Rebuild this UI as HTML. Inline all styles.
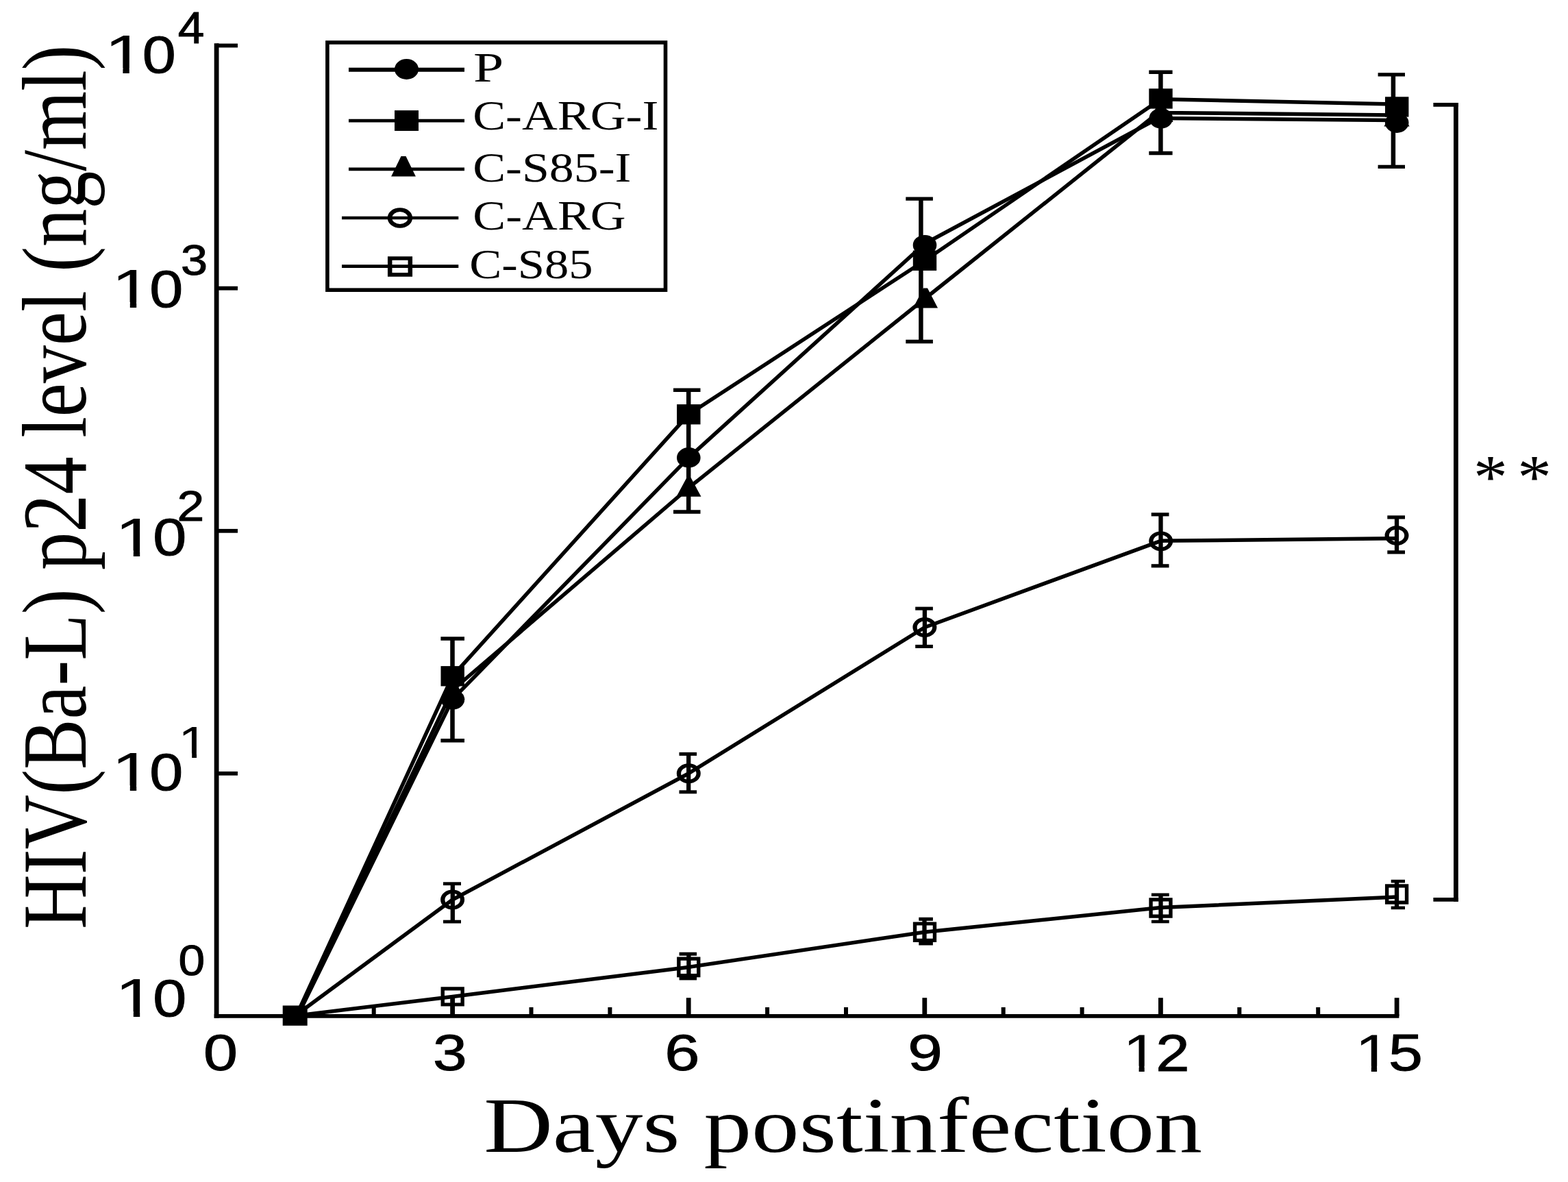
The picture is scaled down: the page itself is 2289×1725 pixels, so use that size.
<!DOCTYPE html>
<html lang="en"><head><meta charset="utf-8"><title>HIV(Ba-L) p24 level vs days postinfection</title>
<style>html,body{margin:0;padding:0;background:#fff}body{width:2289px;height:1725px;overflow:hidden}svg{display:block}text{fill:#000}</style>
</head><body>
<svg width="2289" height="1725" viewBox="0 0 2289 1725">
<rect x="0" y="0" width="2289" height="1725" fill="#fff"/>
<g fill="none" stroke="#000" stroke-width="5.5" stroke-linejoin="round" stroke-linecap="butt">
<polyline points="434.5,1482.5 660.6,1020.5 1005.3,667.9 1350.0,355.5 1694.6,170.5 1694.6,172.6 2039.0,175.5"/>
<polyline points="432.5,1482.5 660.6,986.7 1005.3,604.8 1350.0,380.2 1694.6,144.8 2039.0,152.0"/>
<polyline points="433.5,1482.5 660.6,1007.0 1005.3,712.0 1350.0,436.0 1694.6,161.5 1694.6,164.4 2039.0,168.0"/>
<polyline points="430.7,1482.5 660.6,1313.0 1005.3,1128.7 1350.0,915.5 1694.6,789.3 2039.0,785.8"/>
<polyline points="430.7,1482.5 660.6,1454.4 1005.3,1411.4 1350.0,1360.2 1694.6,1324.5 2039.0,1309.0"/>
</g>
<g stroke="#000" fill="none">
<line x1="316.1" y1="63.3" x2="316.1" y2="1485.7" stroke-width="6.8" stroke-linecap="butt"/>
<line x1="312.7" y1="1482.9" x2="2042.4" y2="1482.9" stroke-width="5.6" stroke-linecap="butt"/>
<line x1="316.1" y1="66.5" x2="347.0" y2="66.5" stroke-width="5.8" stroke-linecap="butt"/>
<line x1="316.1" y1="420.7" x2="347.0" y2="420.7" stroke-width="5.8" stroke-linecap="butt"/>
<line x1="316.1" y1="774.8" x2="347.0" y2="774.8" stroke-width="5.8" stroke-linecap="butt"/>
<line x1="316.1" y1="1128.8" x2="347.0" y2="1128.8" stroke-width="5.8" stroke-linecap="butt"/>
<line x1="430.9" y1="1470.0" x2="430.9" y2="1482.9" stroke-width="6.0" stroke-linecap="butt"/>
<line x1="545.7" y1="1470.0" x2="545.7" y2="1482.9" stroke-width="6.0" stroke-linecap="butt"/>
<line x1="660.6" y1="1456.2" x2="660.6" y2="1482.9" stroke-width="6.8" stroke-linecap="butt"/>
<line x1="775.5" y1="1470.0" x2="775.5" y2="1482.9" stroke-width="6.0" stroke-linecap="butt"/>
<line x1="890.4" y1="1470.0" x2="890.4" y2="1482.9" stroke-width="6.0" stroke-linecap="butt"/>
<line x1="1005.2" y1="1456.2" x2="1005.2" y2="1482.9" stroke-width="6.8" stroke-linecap="butt"/>
<line x1="1120.1" y1="1470.0" x2="1120.1" y2="1482.9" stroke-width="6.0" stroke-linecap="butt"/>
<line x1="1235.0" y1="1470.0" x2="1235.0" y2="1482.9" stroke-width="6.0" stroke-linecap="butt"/>
<line x1="1349.8" y1="1456.2" x2="1349.8" y2="1482.9" stroke-width="6.8" stroke-linecap="butt"/>
<line x1="1464.7" y1="1470.0" x2="1464.7" y2="1482.9" stroke-width="6.0" stroke-linecap="butt"/>
<line x1="1579.6" y1="1470.0" x2="1579.6" y2="1482.9" stroke-width="6.0" stroke-linecap="butt"/>
<line x1="1694.4" y1="1456.2" x2="1694.4" y2="1482.9" stroke-width="6.8" stroke-linecap="butt"/>
<line x1="1809.3" y1="1470.0" x2="1809.3" y2="1482.9" stroke-width="6.0" stroke-linecap="butt"/>
<line x1="1924.2" y1="1470.0" x2="1924.2" y2="1482.9" stroke-width="6.0" stroke-linecap="butt"/>
<line x1="2039.1" y1="1456.2" x2="2039.1" y2="1482.9" stroke-width="6.8" stroke-linecap="butt"/>
</g>
<g stroke="#000" fill="none">
<line x1="660.5" y1="932.0" x2="660.5" y2="1080.7" stroke-width="6.5" stroke-linecap="butt"/>
<line x1="643.4" y1="932.0" x2="678.0" y2="932.0" stroke-width="5.4" stroke-linecap="butt"/>
<line x1="643.4" y1="1080.7" x2="678.0" y2="1080.7" stroke-width="5.4" stroke-linecap="butt"/>
<line x1="1005.2" y1="569.2" x2="1005.2" y2="747.0" stroke-width="6.5" stroke-linecap="butt"/>
<line x1="983.0" y1="569.2" x2="1022.5" y2="569.2" stroke-width="5.4" stroke-linecap="butt"/>
<line x1="983.0" y1="747.0" x2="1022.5" y2="747.0" stroke-width="5.4" stroke-linecap="butt"/>
<line x1="1344.4" y1="290.1" x2="1344.4" y2="498.5" stroke-width="6.5" stroke-linecap="butt"/>
<line x1="1322.3" y1="290.1" x2="1361.9" y2="290.1" stroke-width="5.4" stroke-linecap="butt"/>
<line x1="1322.3" y1="498.5" x2="1361.9" y2="498.5" stroke-width="5.4" stroke-linecap="butt"/>
<line x1="1694.4" y1="105.3" x2="1694.4" y2="223.5" stroke-width="6.5" stroke-linecap="butt"/>
<line x1="1677.3" y1="105.3" x2="1711.6" y2="105.3" stroke-width="5.4" stroke-linecap="butt"/>
<line x1="1677.3" y1="223.5" x2="1711.6" y2="223.5" stroke-width="5.4" stroke-linecap="butt"/>
<line x1="2033.9" y1="108.9" x2="2033.9" y2="243.4" stroke-width="6.5" stroke-linecap="butt"/>
<line x1="2011.6" y1="108.9" x2="2051.0" y2="108.9" stroke-width="5.4" stroke-linecap="butt"/>
<line x1="2011.6" y1="243.4" x2="2051.0" y2="243.4" stroke-width="5.4" stroke-linecap="butt"/>
<line x1="660.8" y1="1289.7" x2="660.8" y2="1345.1" stroke-width="6.3" stroke-linecap="butt"/>
<line x1="647.0" y1="1289.7" x2="673.0" y2="1289.7" stroke-width="4.8" stroke-linecap="butt"/>
<line x1="647.0" y1="1345.1" x2="673.0" y2="1345.1" stroke-width="4.8" stroke-linecap="butt"/>
<line x1="1005.2" y1="1100.4" x2="1005.2" y2="1155.8" stroke-width="6.3" stroke-linecap="butt"/>
<line x1="991.5" y1="1100.4" x2="1017.1" y2="1100.4" stroke-width="5.0" stroke-linecap="butt"/>
<line x1="991.5" y1="1155.8" x2="1017.1" y2="1155.8" stroke-width="5.0" stroke-linecap="butt"/>
<line x1="1349.9" y1="888.1" x2="1349.9" y2="943.4" stroke-width="6.3" stroke-linecap="butt"/>
<line x1="1336.2" y1="888.1" x2="1361.9" y2="888.1" stroke-width="5.0" stroke-linecap="butt"/>
<line x1="1336.2" y1="943.4" x2="1361.9" y2="943.4" stroke-width="5.0" stroke-linecap="butt"/>
<line x1="1694.5" y1="750.8" x2="1694.5" y2="825.8" stroke-width="6.3" stroke-linecap="butt"/>
<line x1="1680.7" y1="750.8" x2="1706.5" y2="750.8" stroke-width="5.2" stroke-linecap="butt"/>
<line x1="1680.7" y1="825.8" x2="1706.5" y2="825.8" stroke-width="5.2" stroke-linecap="butt"/>
<line x1="2039.0" y1="754.9" x2="2039.0" y2="805.9" stroke-width="6.3" stroke-linecap="butt"/>
<line x1="2025.3" y1="754.9" x2="2051.0" y2="754.9" stroke-width="5.2" stroke-linecap="butt"/>
<line x1="2025.3" y1="805.9" x2="2051.0" y2="805.9" stroke-width="5.2" stroke-linecap="butt"/>
<line x1="1005.4" y1="1392.2" x2="1005.4" y2="1427.9" stroke-width="6.3" stroke-linecap="butt"/>
<line x1="991.6" y1="1392.2" x2="1017.1" y2="1392.2" stroke-width="5.0" stroke-linecap="butt"/>
<line x1="991.6" y1="1427.9" x2="1017.1" y2="1427.9" stroke-width="5.0" stroke-linecap="butt"/>
<line x1="1349.5" y1="1341.3" x2="1349.5" y2="1377.0" stroke-width="6.3" stroke-linecap="butt"/>
<line x1="1341.3" y1="1341.3" x2="1361.9" y2="1341.3" stroke-width="5.0" stroke-linecap="butt"/>
<line x1="1341.3" y1="1377.0" x2="1361.9" y2="1377.0" stroke-width="5.0" stroke-linecap="butt"/>
<line x1="1694.5" y1="1305.8" x2="1694.5" y2="1345.0" stroke-width="6.3" stroke-linecap="butt"/>
<line x1="1680.9" y1="1305.8" x2="1706.7" y2="1305.8" stroke-width="4.6" stroke-linecap="butt"/>
<line x1="1680.9" y1="1345.0" x2="1706.7" y2="1345.0" stroke-width="4.6" stroke-linecap="butt"/>
<line x1="2039.0" y1="1286.1" x2="2039.0" y2="1324.9" stroke-width="6.3" stroke-linecap="butt"/>
<line x1="2030.7" y1="1286.1" x2="2051.0" y2="1286.1" stroke-width="4.6" stroke-linecap="butt"/>
<line x1="2030.7" y1="1324.9" x2="2051.0" y2="1324.9" stroke-width="4.6" stroke-linecap="butt"/>
</g>
<g>
<path d="M643.55,1440.20 H677.85 V1468.60 H643.55 Z M648.95,1445.40 H672.45 V1463.40 H648.95 Z" fill="#000" fill-rule="evenodd"/>
<path d="M988.15,1396.60 H1022.45 V1426.20 H988.15 Z M993.55,1401.80 H1017.05 V1421.00 H993.55 Z" fill="#000" fill-rule="evenodd"/>
<path d="M1332.85,1345.40 H1367.15 V1375.00 H1332.85 Z M1338.25,1350.60 H1361.75 V1369.80 H1338.25 Z" fill="#000" fill-rule="evenodd"/>
<path d="M1677.35,1310.20 H1711.65 V1339.80 H1677.35 Z M1682.75,1315.40 H1706.25 V1334.60 H1682.75 Z" fill="#000" fill-rule="evenodd"/>
<path d="M2021.95,1290.20 H2056.25 V1319.80 H2021.95 Z M2027.35,1295.40 H2050.85 V1314.60 H2027.35 Z" fill="#000" fill-rule="evenodd"/>
<path d="M643.10,1313.00 a17.50,14.40 0 1,0 35.00,0 a17.50,14.40 0 1,0 -35.00,0 Z M649.40,1313.00 a11.20,9.20 0 1,0 22.40,0 a11.20,9.20 0 1,0 -22.40,0 Z" fill="#000" fill-rule="evenodd"/>
<path d="M987.80,1128.70 a17.50,14.40 0 1,0 35.00,0 a17.50,14.40 0 1,0 -35.00,0 Z M994.10,1128.70 a11.20,9.20 0 1,0 22.40,0 a11.20,9.20 0 1,0 -22.40,0 Z" fill="#000" fill-rule="evenodd"/>
<path d="M1332.40,915.50 a17.50,14.40 0 1,0 35.00,0 a17.50,14.40 0 1,0 -35.00,0 Z M1338.70,915.50 a11.20,9.20 0 1,0 22.40,0 a11.20,9.20 0 1,0 -22.40,0 Z" fill="#000" fill-rule="evenodd"/>
<path d="M1677.20,789.80 a17.50,14.40 0 1,0 35.00,0 a17.50,14.40 0 1,0 -35.00,0 Z M1683.50,789.80 a11.20,9.20 0 1,0 22.40,0 a11.20,9.20 0 1,0 -22.40,0 Z" fill="#000" fill-rule="evenodd"/>
<path d="M2021.50,781.60 a17.50,14.40 0 1,0 35.00,0 a17.50,14.40 0 1,0 -35.00,0 Z M2027.80,781.60 a11.20,9.20 0 1,0 22.40,0 a11.20,9.20 0 1,0 -22.40,0 Z" fill="#000" fill-rule="evenodd"/>
<polygon points="657.6,992.0 663.6,992.0 678.6,1020.5 642.6,1020.5" fill="#000"/>
<polygon points="1002.5,697.0 1008.5,697.0 1023.5,724.8 987.5,724.8" fill="#000"/>
<polygon points="1348.0,420.5 1354.0,420.5 1369.0,449.4 1333.0,449.4" fill="#000"/>
<polygon points="1691.6,149.5 1697.6,149.5 1712.6,178.0 1676.6,178.0" fill="#000"/>
<polygon points="2036.0,156.0 2042.0,156.0 2057.6,184.6 2020.4,184.6" fill="#000"/>
<ellipse cx="660.9" cy="1020.8" rx="17.3" ry="14.8" fill="#000"/>
<ellipse cx="1005.3" cy="667.9" rx="17.3" ry="14.8" fill="#000"/>
<ellipse cx="1350.0" cy="357.7" rx="17.3" ry="14.8" fill="#000"/>
<ellipse cx="1694.8" cy="172.7" rx="17.3" ry="14.8" fill="#000"/>
<ellipse cx="2039.2" cy="179.1" rx="17.3" ry="14.8" fill="#000"/>
<rect x="643.5" y="972.1" width="34.4" height="29.3" fill="#000" stroke="none"/>
<rect x="988.1" y="590.1" width="34.4" height="29.3" fill="#000" stroke="none"/>
<rect x="1332.8" y="365.6" width="34.4" height="29.3" fill="#000" stroke="none"/>
<rect x="1677.3" y="129.3" width="34.4" height="29.3" fill="#000" stroke="none"/>
<rect x="2022.0" y="141.3" width="34.4" height="29.3" fill="#000" stroke="none"/>
<rect x="412.7" y="1467.5" width="36.0" height="29.3" fill="#000" stroke="none"/>
</g>
<g stroke="#000" fill="none">
<line x1="2125.4" y1="150.0" x2="2125.4" y2="1315.8" stroke-width="6.8" stroke-linecap="butt"/>
<line x1="2092.4" y1="152.9" x2="2128.8" y2="152.9" stroke-width="5.8" stroke-linecap="butt"/>
<line x1="2092.4" y1="1312.9" x2="2128.8" y2="1312.9" stroke-width="5.8" stroke-linecap="butt"/>
</g>
<g>
<rect x="477.9" y="62.0" width="493.6" height="361.2" fill="none" stroke="#000" stroke-width="5.6"/>
<g stroke="#000" fill="none">
<line x1="509.0" y1="101.8" x2="678.0" y2="101.8" stroke-width="5.9" stroke-linecap="butt"/>
<line x1="509.0" y1="176.1" x2="678.0" y2="176.1" stroke-width="4.6" stroke-linecap="butt"/>
<line x1="509.0" y1="246.9" x2="678.0" y2="246.9" stroke-width="4.6" stroke-linecap="butt"/>
<line x1="499.0" y1="318.0" x2="669.3" y2="318.0" stroke-width="4.6" stroke-linecap="butt"/>
<line x1="499.0" y1="388.6" x2="669.3" y2="388.6" stroke-width="4.6" stroke-linecap="butt"/>
</g>
<ellipse cx="593.5" cy="101.0" rx="17.5" ry="14.9" fill="#000"/>
<rect x="576.0" y="161.1" width="35.0" height="29.9" fill="#000" stroke="none"/>
<polygon points="585.5,227.9 592.5,227.9 606.9,257.5 571.1,257.5" fill="#000"/>
<path d="M565.70,318.00 a18.20,14.85 0 1,0 36.40,0 a18.20,14.85 0 1,0 -36.40,0 Z M572.20,318.00 a11.70,8.95 0 1,0 23.40,0 a11.70,8.95 0 1,0 -23.40,0 Z" fill="#000" fill-rule="evenodd"/>
<path d="M565.95,374.15 H602.05 V403.65 H565.95 Z M572.45,379.75 H595.55 V398.05 H572.45 Z" fill="#000" fill-rule="evenodd"/>
</g>
<g fill="#000">
<text transform="translate(690.92 119.00) scale(1.3013 1)" font-family='"Liberation Serif", serif' font-size="61.00">P</text>
<text transform="translate(690.13 189.30) scale(1.1773 1)" font-family='"Liberation Serif", serif' font-size="61.00">C-ARG-I</text>
<text transform="translate(690.13 264.80) scale(1.1771 1)" font-family='"Liberation Serif", serif' font-size="61.00">C-S85-I</text>
<text transform="translate(690.33 335.20) scale(1.1767 1)" font-family='"Liberation Serif", serif' font-size="61.00">C-ARG</text>
<text transform="translate(685.17 405.80) scale(1.1578 1)" font-family='"Liberation Serif", serif' font-size="61.00">C-S85</text>
<text font-family='"Liberation Sans", sans-serif'><tspan x="152.16" y="107.40" font-size="80.29" textLength="59.93" lengthAdjust="spacingAndGlyphs">1</tspan><tspan x="207.75" y="106.13" font-size="76.61" textLength="48.98" lengthAdjust="spacingAndGlyphs" stroke="#000" stroke-width="1.0">0</tspan><tspan x="259.78" y="62.70" font-size="64.44" textLength="38.57" lengthAdjust="spacingAndGlyphs" stroke="#000" stroke-width="1.0">4</tspan></text>
<rect x="157.6" y="99.4" width="21.8" height="9.5" fill="#fff" stroke="none"/>
<rect x="188.8" y="99.4" width="20.5" height="9.5" fill="#fff" stroke="none"/>
<text font-family='"Liberation Sans", sans-serif'><tspan x="162.56" y="448.90" font-size="80.29" textLength="59.93" lengthAdjust="spacingAndGlyphs">1</tspan><tspan x="218.15" y="447.63" font-size="76.61" textLength="48.98" lengthAdjust="spacingAndGlyphs" stroke="#000" stroke-width="1.0">0</tspan><tspan x="264.03" y="401.07" font-size="62.61" textLength="39.08" lengthAdjust="spacingAndGlyphs" stroke="#000" stroke-width="1.0">3</tspan></text>
<rect x="168.0" y="440.9" width="21.8" height="9.5" fill="#fff" stroke="none"/>
<rect x="199.2" y="440.9" width="20.5" height="9.5" fill="#fff" stroke="none"/>
<text font-family='"Liberation Sans", sans-serif'><tspan x="167.56" y="811.50" font-size="80.58" textLength="59.93" lengthAdjust="spacingAndGlyphs">1</tspan><tspan x="223.15" y="810.23" font-size="76.89" textLength="48.99" lengthAdjust="spacingAndGlyphs" stroke="#000" stroke-width="1.0">0</tspan><tspan x="258.49" y="760.30" font-size="63.66" textLength="39.70" lengthAdjust="spacingAndGlyphs" stroke="#000" stroke-width="1.0">2</tspan></text>
<rect x="173.0" y="803.4" width="21.8" height="9.6" fill="#fff" stroke="none"/>
<rect x="204.2" y="803.4" width="20.5" height="9.6" fill="#fff" stroke="none"/>
<text font-family='"Liberation Sans", sans-serif'><tspan x="162.56" y="1154.40" font-size="80.29" textLength="59.93" lengthAdjust="spacingAndGlyphs">1</tspan><tspan x="218.15" y="1153.13" font-size="76.61" textLength="48.98" lengthAdjust="spacingAndGlyphs" stroke="#000" stroke-width="1.0">0</tspan><tspan x="260.36" y="1105.80" font-size="65.31" textLength="43.59" lengthAdjust="spacingAndGlyphs">1</tspan></text>
<rect x="168.0" y="1146.4" width="21.8" height="9.5" fill="#fff" stroke="none"/>
<rect x="199.2" y="1146.4" width="20.5" height="9.5" fill="#fff" stroke="none"/>
<rect x="264.3" y="1099.3" width="15.9" height="8.0" fill="#fff" stroke="none"/>
<rect x="287.0" y="1099.3" width="14.9" height="8.0" fill="#fff" stroke="none"/>
<text font-family='"Liberation Sans", sans-serif'><tspan x="167.56" y="1484.30" font-size="80.58" textLength="59.93" lengthAdjust="spacingAndGlyphs">1</tspan><tspan x="223.15" y="1483.03" font-size="76.89" textLength="48.99" lengthAdjust="spacingAndGlyphs" stroke="#000" stroke-width="1.0">0</tspan><tspan x="260.58" y="1423.48" font-size="62.47" textLength="38.66" lengthAdjust="spacingAndGlyphs" stroke="#000" stroke-width="1.0">0</tspan></text>
<rect x="173.0" y="1476.2" width="21.8" height="9.6" fill="#fff" stroke="none"/>
<rect x="204.2" y="1476.2" width="20.5" height="9.6" fill="#fff" stroke="none"/>
<text font-family='"Liberation Sans", sans-serif'><tspan x="296.91" y="1562.26" font-size="74.49" textLength="49.96" lengthAdjust="spacingAndGlyphs" stroke="#000" stroke-width="1.0">0</tspan></text>
<text font-family='"Liberation Sans", sans-serif'><tspan x="631.95" y="1562.26" font-size="74.49" textLength="49.65" lengthAdjust="spacingAndGlyphs" stroke="#000" stroke-width="1.0">3</tspan></text>
<text font-family='"Liberation Sans", sans-serif'><tspan x="970.22" y="1562.26" font-size="74.49" textLength="51.19" lengthAdjust="spacingAndGlyphs" stroke="#000" stroke-width="1.0">6</tspan></text>
<text font-family='"Liberation Sans", sans-serif'><tspan x="1325.29" y="1562.26" font-size="74.49" textLength="50.60" lengthAdjust="spacingAndGlyphs" stroke="#000" stroke-width="1.0">9</tspan></text>
<text font-family='"Liberation Sans", sans-serif'><tspan x="1639.20" y="1563.50" font-size="78.11" textLength="51.53" lengthAdjust="spacingAndGlyphs">1</tspan><tspan x="1687.25" y="1563.00" font-size="75.56" textLength="49.30" lengthAdjust="spacingAndGlyphs" stroke="#000" stroke-width="1.0">2</tspan></text>
<rect x="1643.8" y="1555.7" width="18.8" height="9.3" fill="#fff" stroke="none"/>
<rect x="1670.7" y="1555.7" width="17.6" height="9.3" fill="#fff" stroke="none"/>
<text font-family='"Liberation Sans", sans-serif'><tspan x="1977.90" y="1563.50" font-size="78.11" textLength="52.67" lengthAdjust="spacingAndGlyphs">1</tspan><tspan x="2027.01" y="1562.24" font-size="75.56" textLength="49.90" lengthAdjust="spacingAndGlyphs" stroke="#000" stroke-width="1.0">5</tspan></text>
<rect x="1982.6" y="1555.7" width="19.2" height="9.3" fill="#fff" stroke="none"/>
<rect x="2010.1" y="1555.7" width="18.0" height="9.3" fill="#fff" stroke="none"/>
<text transform="translate(706.22 1681.20) scale(1.2277 1)" font-family='"Liberation Serif", serif' font-size="113.50">Days postinfection</text>
<text transform="translate(125.00 1356.01) rotate(-90) scale(0.8237 1)" font-family='"Liberation Serif", serif' font-size="134.00">HIV(Ba-L) p24 level (ng/ml)</text>
<text y="727.35" font-family='"Liberation Serif", serif' font-size="92.00"><tspan x="2150.88" textLength="50.25" lengthAdjust="spacingAndGlyphs">*</tspan><tspan x="2214.90" textLength="50.00" lengthAdjust="spacingAndGlyphs">*</tspan></text>
</g>
</svg>
</body></html>
